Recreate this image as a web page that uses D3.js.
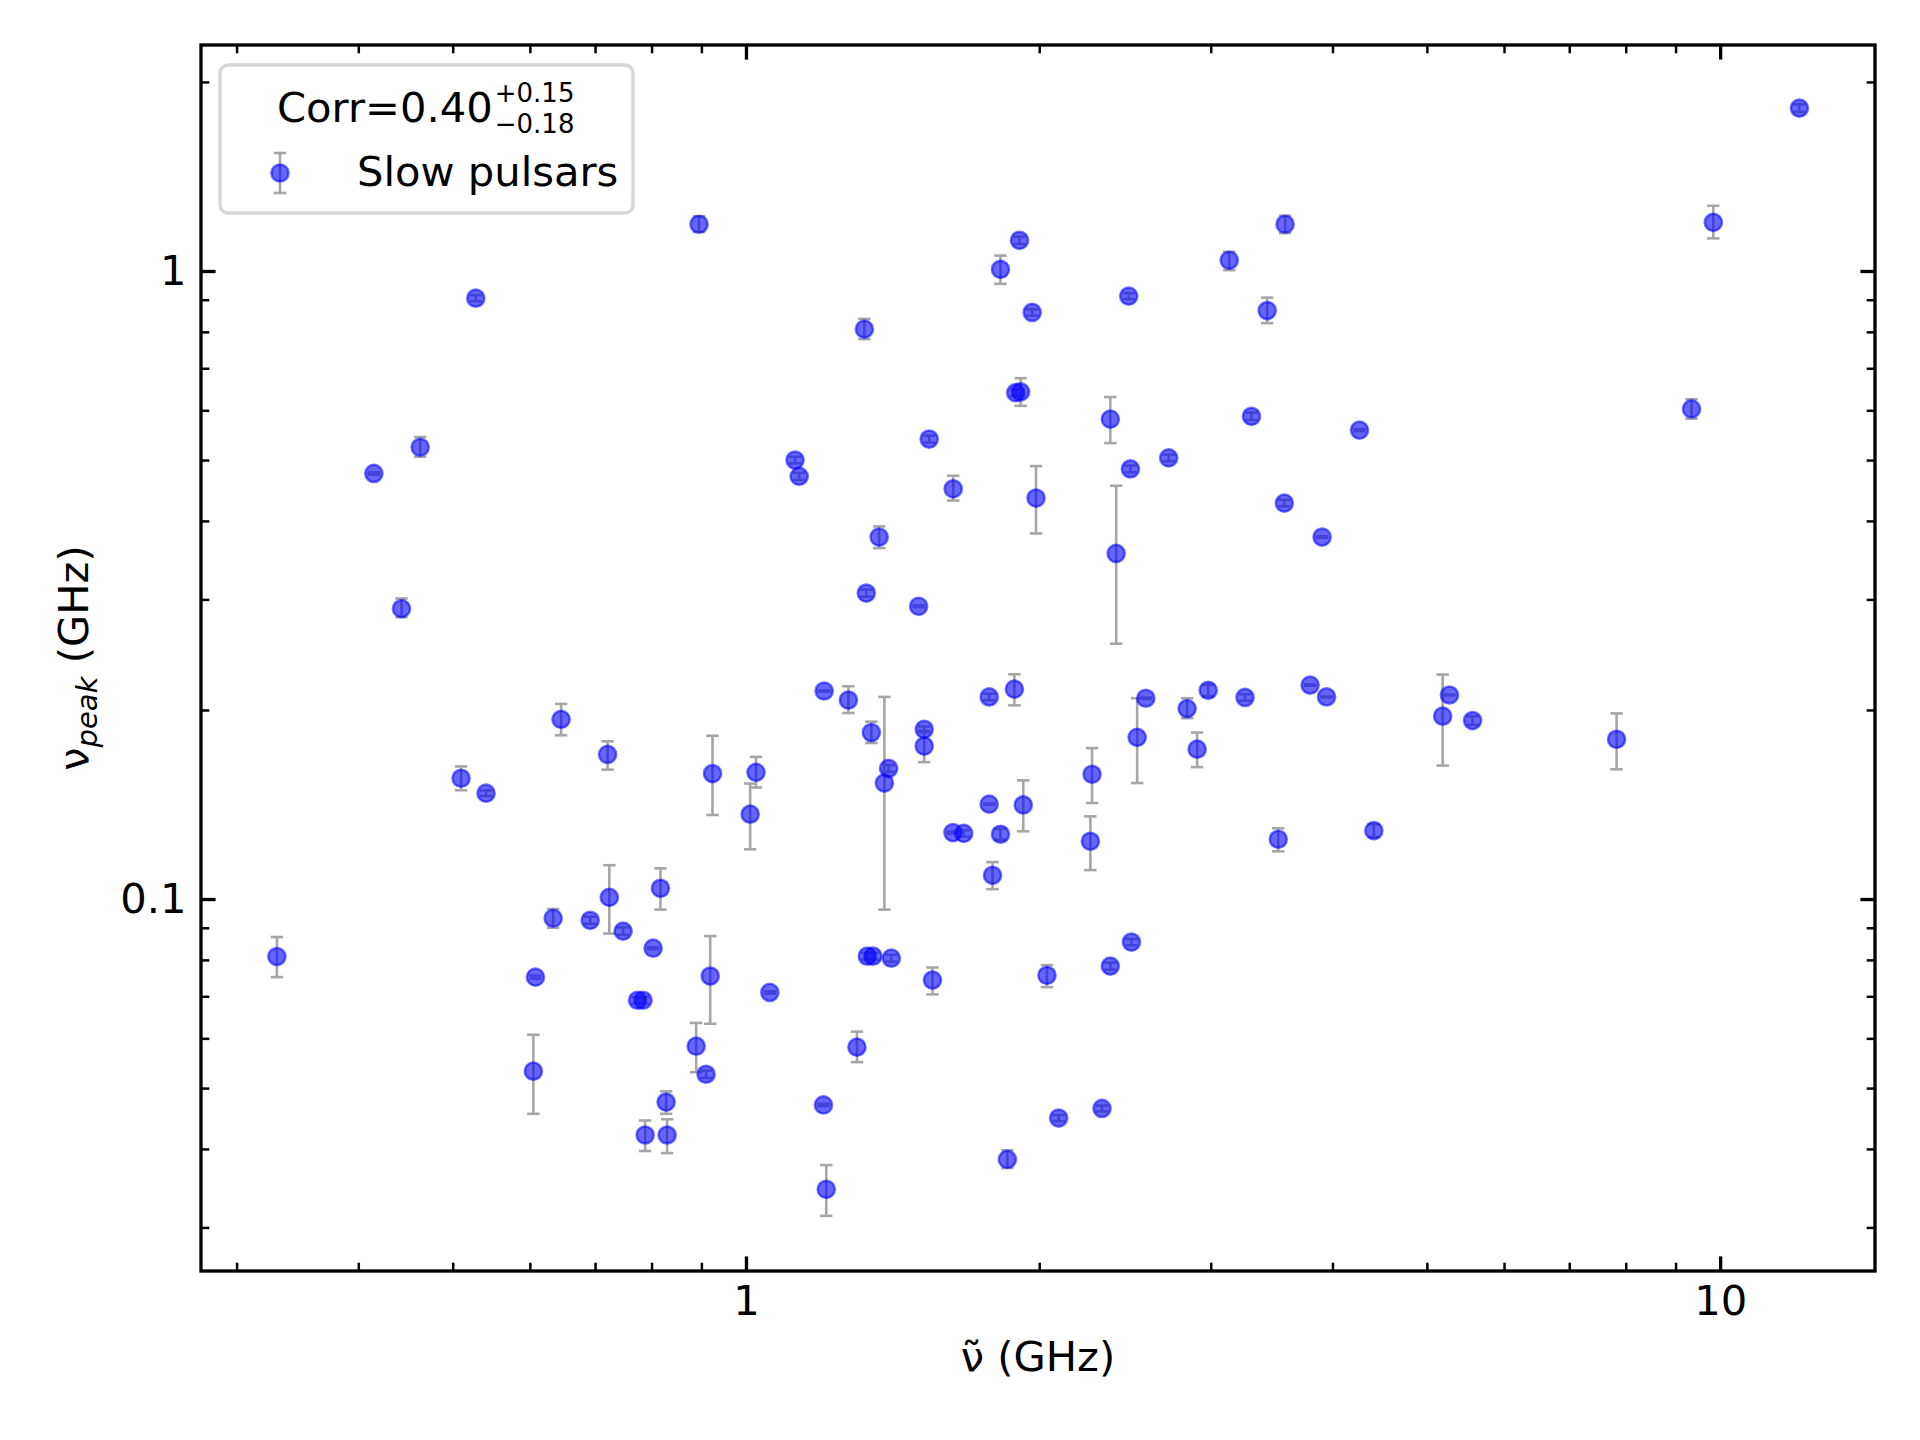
<!DOCTYPE html>
<html>
<head>
<meta charset="utf-8">
<script src="https://cdn.jsdelivr.net/npm/d3@7"></script>
<style>
  body { margin: 0; background: #fff; }
  svg text { font-family: "DejaVu Sans", sans-serif; }
</style>
</head>
<body>
<svg id="chart" width="1920" height="1440"></svg>
<script>
// ----- data -----
const nuTilde = [0.895, 0.528, 0.463, 0.415, 0.443, 3.576, 3.134, 1.909, 1.825, 1.967, 2.471, 3.428, 1.323, 1.892, 1.914, 2.366, 3.303, 1.542, 1.123, 1.134, 1.632, 1.985, 2.481, 2.716, 3.570, 3.903, 1.370, 1.329, 1.504, 2.399, 12.06, 9.84, 9.346, 4.264,
  0.330, 0.510, 0.541, 0.646, 0.721, 0.924, 1.024, 1.010, 0.724, 0.634, 0.692, 0.748, 0.817, 0.803, 0.608, 0.919, 0.774, 0.784, 0.605, 0.889, 0.910, 0.828, 0.788, 0.830,
  1.203, 1.274, 1.345, 1.387, 1.401, 1.524, 1.524, 1.777, 1.886, 1.777, 1.926, 1.631, 1.673, 1.825, 1.791, 2.266, 2.257, 2.573, 2.521, 2.837, 2.982, 3.253, 2.905, 3.794, 3.519, 1.332, 1.350, 1.410, 1.554, 1.058, 2.037, 2.366, 2.487, 1.300, 1.201, 1.209, 1.855, 2.094, 2.320,
  3.944, 5.274, 5.190, 5.570, 7.829, 4.411];

const nuPeak = [1.187, 0.905, 0.524, 0.476, 0.290, 1.187, 1.040, 1.119, 1.006, 0.859, 0.912, 0.865, 0.808, 0.640, 0.642, 0.581, 0.587, 0.540, 0.500, 0.471, 0.450, 0.435, 0.484, 0.504, 0.427, 0.377, 0.377, 0.307, 0.2925, 0.355, 1.817, 1.195, 0.603, 0.558,
  0.0810, 0.1557, 0.1474, 0.1932, 0.1699, 0.1584, 0.1591, 0.1365, 0.1006, 0.0932, 0.0925, 0.0889, 0.1040, 0.0835, 0.0751, 0.0754, 0.0690, 0.0690, 0.0532, 0.0583, 0.0526, 0.0475, 0.0421, 0.0421,
  0.2144, 0.2074, 0.1841, 0.1530, 0.1614, 0.1863, 0.1752, 0.2098, 0.2159, 0.1416, 0.1412, 0.1276, 0.1272, 0.1268, 0.1091, 0.1580, 0.1236, 0.2088, 0.1809, 0.2010, 0.2149, 0.2094, 0.1732, 0.2191, 0.1245, 0.0811, 0.0811, 0.0805, 0.0743, 0.0710, 0.0756, 0.0782, 0.0854, 0.0581, 0.0470, 0.0345, 0.0385, 0.0448, 0.0464,
  0.2098, 0.2113, 0.1955, 0.1924, 0.1796, 0.1285];

const errLow = [0.033, 0.010, 0.018, 0.002, 0.009, 0.038, 0.037, 0.015, 0.052, 0.010, 0.010, 0.039, 0.029, 0.008, 0.032, 0.049, 0.008, 0.007, 0.006, 0.006, 0.019, 0.053, 0.006, 0.006, 0.005, 0.001, 0.015, 0.004, 0.001, 0.100, 0.025, 0.068, 0.021, 0.002,
  0.0059, 0.0067, 0.0015, 0.0109, 0.0092, 0.0223, 0.0086, 0.0165, 0.0125, 0.0032, 0.0012, 0.0012, 0.0078, 0.0003, 0.0004, 0.0121, 0.0008, 0.0008, 0.0077, 0.0053, 0.0007, 0.0020, 0.0024, 0.0027,
  0.0005, 0.0096, 0.0069, 0.0568, 0.0020, 0.0020, 0.0100, 0.0025, 0.0125, 0.0003, 0.0130, 0.0005, 0.0015, 0.0025, 0.0054, 0.0158, 0.0124, 0.0005, 0.0279, 0.0069, 0.0045, 0.0025, 0.0110, 0.0005, 0.0054, 0.0010, 0.0010, 0.0010, 0.0038, 0.0003, 0.0032, 0.0010, 0.0010, 0.0031, 0.0002, 0.0032, 0.0012, 0.0005, 0.0005,
  0.0003, 0.0003, 0.0324, 0.0030, 0.0187, 0.0030];

const errHigh = [0.035, 0.010, 0.020, 0.002, 0.011, 0.038, 0.033, 0.015, 0.052, 0.010, 0.010, 0.042, 0.031, 0.008, 0.033, 0.049, 0.008, 0.007, 0.006, 0.006, 0.022, 0.054, 0.006, 0.006, 0.005, 0.001, 0.015, 0.004, 0.001, 0.100, 0.025, 0.075, 0.022, 0.002,
  0.0060, 0.0069, 0.0015, 0.0113, 0.0084, 0.0236, 0.0093, 0.0162, 0.0126, 0.0032, 0.0012, 0.0012, 0.0079, 0.0003, 0.0004, 0.0119, 0.0008, 0.0008, 0.0076, 0.0052, 0.0007, 0.0019, 0.0023, 0.0025,
  0.0005, 0.0108, 0.0075, 0.0568, 0.0020, 0.0020, 0.0100, 0.0025, 0.0121, 0.0003, 0.0133, 0.0005, 0.0015, 0.0025, 0.0054, 0.0159, 0.0118, 0.0005, 0.0279, 0.0078, 0.0045, 0.0025, 0.0109, 0.0005, 0.0051, 0.0010, 0.0010, 0.0010, 0.0035, 0.0003, 0.0029, 0.0010, 0.0010, 0.0034, 0.0002, 0.0032, 0.0013, 0.0005, 0.0005,
  0.0003, 0.0003, 0.0322, 0.0030, 0.0179, 0.0030];

const xMajorTicks = [1, 10];
const xMinorTicks = [0.3, 0.4, 0.5, 0.6, 0.7, 0.8, 0.9, 2, 3, 4, 5, 6, 7, 8, 9];
const yMajorTicks = [0.1, 1];
const yMinorTicks = [0.03, 0.04, 0.05, 0.06, 0.07, 0.08, 0.09, 0.2, 0.3, 0.4, 0.5, 0.6, 0.7, 0.8, 0.9, 2];

const seriesLabel = "Slow pulsars";
const corrValue = "0.40", corrPlus = "+0.15", corrMinus = "\u22120.18";

// ----- layout -----
const plotL = 201, plotR = 1875, plotT = 45, plotB = 1271;
const fontSize = 41.67;
const majorLen = 14.6, minorLen = 8.3;
const markerR = 8.6;

const svg = d3.select("svg#chart");
svg.append("rect").attr("width", 1920).attr("height", 1440).attr("fill", "#fff");

const x = d3.scaleLog().domain([0.2758, 14.42]).range([plotL, plotR]);
const y = d3.scaleLog().domain([0.02557, 2.290]).range([plotB, plotT]);

const points = nuTilde.map((d, i) => ({
  x: d, y: nuPeak[i], lo: nuPeak[i] - errLow[i], hi: nuPeak[i] + errHigh[i]
}));

// error bars first, markers on top
const errArea = svg.append("g").attr("class", "errorbars")
                   .attr("stroke", "#a6a6a6")
                   .attr("stroke-width", 2.6);
const capHalf = 6.2;

errArea.selectAll("g.err")
       .data(points)
       .join("g")
       .attr("class", "err")
       .each(function(d) {
         const g = d3.select(this);
         const cx = x(d.x);
         g.append("line").attr("x1", cx).attr("x2", cx).attr("y1", y(d.lo)).attr("y2", y(d.hi));
         g.append("line").attr("x1", cx - capHalf).attr("x2", cx + capHalf).attr("y1", y(d.lo)).attr("y2", y(d.lo));
         g.append("line").attr("x1", cx - capHalf).attr("x2", cx + capHalf).attr("y1", y(d.hi)).attr("y2", y(d.hi));
       });

svg.append("g").attr("class", "markers")
   .selectAll("circle")
   .data(points)
   .join("circle")
   .attr("cx", d => x(d.x))
   .attr("cy", d => y(d.y))
   .attr("r", markerR)
   .attr("fill", "blue")
   .attr("fill-opacity", 0.6)
   .attr("stroke", "blue")
   .attr("stroke-opacity", 0.55)
   .attr("stroke-width", 2.5);

// ----- axes: ticks point inwards, on all four sides -----
function styleAxis(g, width) {
  g.select(".domain").remove();
  g.selectAll(".tick line").attr("stroke", "#000").attr("stroke-width", width);
  g.selectAll(".tick text").attr("fill", "#000")
   .style("font-family", "'DejaVu Sans', sans-serif")
   .style("font-size", fontSize + "px");
}

const fmt = d3.format("~g");

svg.append("g").attr("transform", "translate(0," + plotB + ")")
   .call(d3.axisBottom(x).tickValues(xMajorTicks).tickFormat(fmt).tickSize(-majorLen).tickPadding(majorLen))
   .call(g => styleAxis(g, 3.33));
svg.append("g").attr("transform", "translate(0," + plotB + ")")
   .call(d3.axisBottom(x).tickValues(xMinorTicks).tickFormat("").tickSize(-minorLen))
   .call(g => styleAxis(g, 2.5));
svg.append("g").attr("transform", "translate(0," + plotT + ")")
   .call(d3.axisTop(x).tickValues(xMajorTicks).tickFormat("").tickSize(-majorLen))
   .call(g => styleAxis(g, 3.33));
svg.append("g").attr("transform", "translate(0," + plotT + ")")
   .call(d3.axisTop(x).tickValues(xMinorTicks).tickFormat("").tickSize(-minorLen))
   .call(g => styleAxis(g, 2.5));

svg.append("g").attr("transform", "translate(" + plotL + ",0)")
   .call(d3.axisLeft(y).tickValues(yMajorTicks).tickFormat(fmt).tickSize(-majorLen).tickPadding(majorLen))
   .call(g => styleAxis(g, 3.33));
svg.append("g").attr("transform", "translate(" + plotL + ",0)")
   .call(d3.axisLeft(y).tickValues(yMinorTicks).tickFormat("").tickSize(-minorLen))
   .call(g => styleAxis(g, 2.5));
svg.append("g").attr("transform", "translate(" + plotR + ",0)")
   .call(d3.axisRight(y).tickValues(yMajorTicks).tickFormat("").tickSize(-majorLen))
   .call(g => styleAxis(g, 3.33));
svg.append("g").attr("transform", "translate(" + plotR + ",0)")
   .call(d3.axisRight(y).tickValues(yMinorTicks).tickFormat("").tickSize(-minorLen))
   .call(g => styleAxis(g, 2.5));

// frame
svg.append("rect")
   .attr("x", plotL).attr("y", plotT)
   .attr("width", plotR - plotL).attr("height", plotB - plotT)
   .attr("fill", "none").attr("stroke", "#000").attr("stroke-width", 3.33);

// axis labels
svg.append("text")
   .attr("x", (plotL + plotR) / 2).attr("y", 1371)
   .attr("text-anchor", "middle")
   .style("font-size", fontSize + "px")
   .text("\u03BD\u0303 (GHz)");

const yLab = svg.append("text")
   .attr("transform", "translate(88," + (plotT + plotB) / 2 + ") rotate(-90)")
   .attr("text-anchor", "middle")
   .style("font-size", fontSize + "px");
yLab.append("tspan").text("\u03BD");
yLab.append("tspan").attr("dy", 9).style("font-size", "29px").style("font-style", "italic").text("peak");
yLab.append("tspan").attr("dy", -9).text(" (GHz)");

// ----- legend -----
const legend = svg.append("g").attr("class", "legend");
legend.append("rect")
      .attr("x", 220).attr("y", 65)
      .attr("width", 413).attr("height", 148)
      .attr("rx", 8).attr("ry", 8)
      .attr("fill", "#fff").attr("fill-opacity", 0.8)
      .attr("stroke", "#d6d6d6").attr("stroke-width", 3.33);

const corrMain = legend.append("text")
      .attr("x", 277).attr("y", 122)
      .style("font-size", fontSize + "px")
      .text("Corr=" + corrValue);
const supX = 277 + corrMain.node().getComputedTextLength() + 2;
legend.append("text").attr("x", supX).attr("y", 102)
      .style("font-size", "26px").text(corrPlus);
legend.append("text").attr("x", supX).attr("y", 133)
      .style("font-size", "26px").text(corrMinus);

const lgX = 280, lgY = 173;
legend.append("g")
      .attr("stroke", "#a6a6a6").attr("stroke-width", 2.6)
      .call(g => {
        g.append("line").attr("x1", lgX).attr("x2", lgX).attr("y1", 153).attr("y2", 193);
        g.append("line").attr("x1", lgX - capHalf).attr("x2", lgX + capHalf).attr("y1", 153).attr("y2", 153);
        g.append("line").attr("x1", lgX - capHalf).attr("x2", lgX + capHalf).attr("y1", 193).attr("y2", 193);
      });
legend.append("circle")
      .attr("cx", lgX).attr("cy", lgY).attr("r", markerR)
      .attr("fill", "blue").attr("fill-opacity", 0.6)
      .attr("stroke", "blue").attr("stroke-opacity", 0.55).attr("stroke-width", 2.5);
legend.append("text")
      .attr("x", 357).attr("y", 186)
      .style("font-size", fontSize + "px")
      .text(seriesLabel);
</script>
</body>
</html>
